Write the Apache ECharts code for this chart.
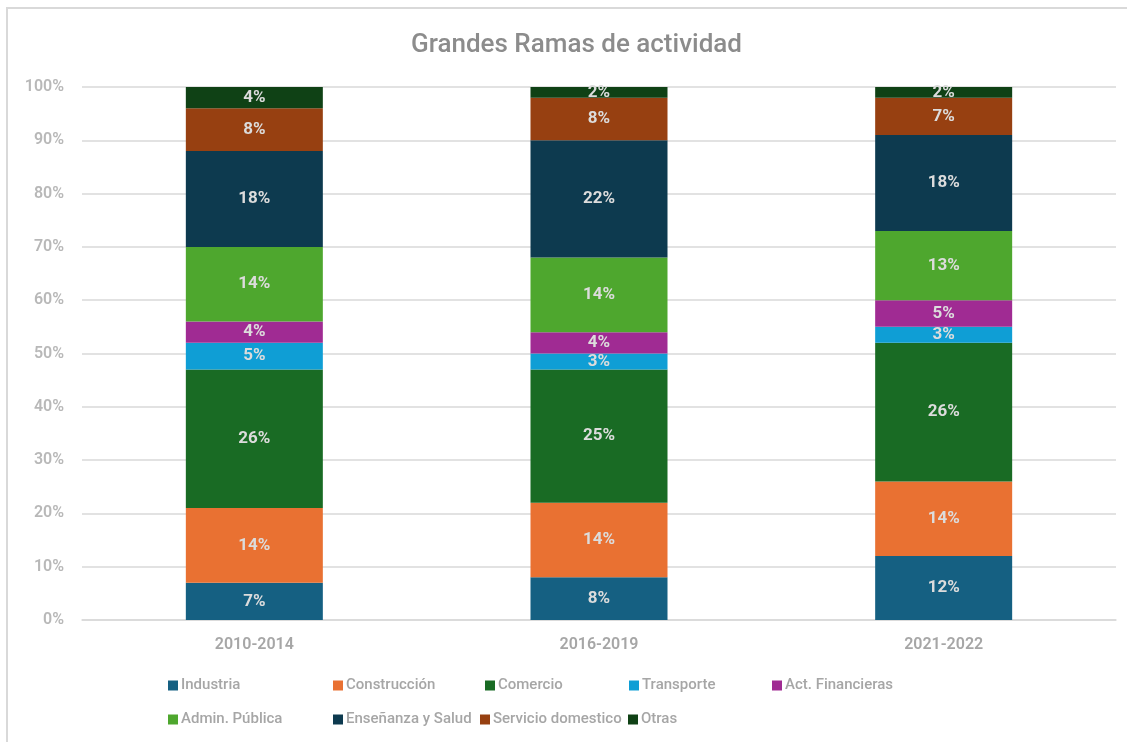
<!DOCTYPE html>
<html>
<head>
<meta charset="utf-8">
<script src="https://cdn.jsdelivr.net/npm/echarts@6/dist/echarts.min.js"></script>
<style>
html,body{margin:0;padding:0;background:#fff;}
#chart{width:1127px;height:742px;}
</style>
</head>
<body>
<div id="chart"></div>
<script>
const categories = ['2010-2014', '2016-2019', '2021-2022'];
const yTicks = [0, 10, 20, 30, 40, 50, 60, 70, 80, 90, 100];

const industria = [7, 8, 12];
const construccion = [14, 14, 14];
const comercio = [26, 25, 26];
const transporte = [5, 3, 3];
const actFinancieras = [4, 4, 5];
const adminPublica = [14, 14, 13];
const ensenanzaSalud = [18, 22, 18];
const servicioDomestico = [8, 8, 7];
const otras = [4, 2, 2];

const seriesNames = ['Industria', 'Construcción', 'Comercio', 'Transporte', 'Act. Financieras',
  'Admin. Pública', 'Enseñanza y Salud', 'Servicio domestico', 'Otras'];
const seriesData = [industria, construccion, comercio, transporte, actFinancieras,
  adminPublica, ensenanzaSalud, servicioDomestico, otras];
const colors = ['#156082', '#E97132', '#196B24', '#0F9ED5', '#A02B93',
  '#4EA72E', '#0D3A4F', '#974011', '#0F4115'];

const FONT = 'Roboto';
// legend layout (x per item, rows y)
const legendX = [168, 333, 485, 629, 772, 168, 333, 480, 628];
const legendRows = [678, 712];

const legends = seriesNames.map((n, i) => ({
  data: [n],
  left: legendX[i],
  top: legendRows[i < 5 ? 0 : 1],
  icon: 'rect',
  itemWidth: 10,
  itemHeight: 10,
  selectedMode: false,
  padding: 0,
  textStyle: { color: '#a6a6a6', fontSize: 15, fontFamily: FONT, fontWeight: 500, padding: [0, 0, 0, -2] }
}));

const chart = echarts.init(document.getElementById('chart'));
chart.setOption({
  animation: false,
  backgroundColor: '#fff',
  color: colors,
  title: {
    text: 'Grandes Ramas de actividad',
    left: 406,
    top: 27,
    textStyle: { color: '#8c8c8c', fontSize: 26, fontWeight: 500, fontFamily: FONT }
  },
  graphic: [{
    type: 'rect',
    shape: { x: 7, y: 8, width: 1200, height: 800 },
    style: { fill: 'none', stroke: '#d9d9d9', lineWidth: 2 },
    silent: true
  }],
  legend: legends,
  grid: { left: 82, right: 11, top: 87, bottom: 122, containLabel: false },
  xAxis: {
    type: 'category',
    data: categories,
    axisLine: { show: true, lineStyle: { color: '#d9d9d9', width: 1.5 } },
    axisTick: { show: false },
    axisLabel: { color: '#a6a6a6', fontSize: 16, fontFamily: FONT, fontWeight: 600, margin: 17 }
  },
  yAxis: {
    type: 'value',
    min: yTicks[0],
    max: yTicks[yTicks.length - 1],
    interval: yTicks[1] - yTicks[0],
    axisLine: { show: false },
    axisTick: { show: false },
    splitLine: { lineStyle: { color: '#d9d9d9', width: 1.5 } },
    axisLabel: { color: '#b8b8b8', fontSize: 16, fontFamily: FONT, fontWeight: 600, margin: 18, formatter: v => v + '%' }
  },
  series: seriesNames.map((n, i) => ({
    name: n,
    type: 'bar',
    stack: 'total',
    barWidth: 137,
    data: seriesData[i],
    itemStyle: { color: colors[i] },
    label: {
      show: true,
      position: 'inside',
      formatter: p => p.value + '%',
      color: '#dcdcdc',
      fontSize: 17,
      fontWeight: 'bold',
      fontFamily: FONT
    }
  }))
});
</script>
</body>
</html>
